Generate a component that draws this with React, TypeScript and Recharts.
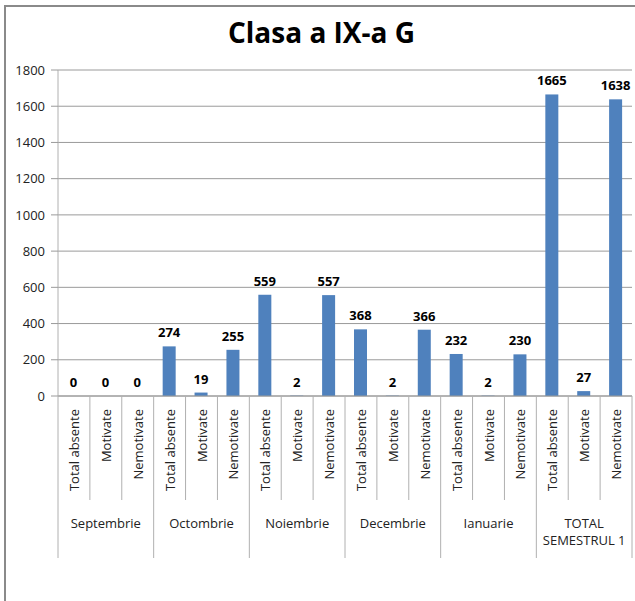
import { BarChart, Bar, XAxis, YAxis, CartesianGrid } from 'recharts';

const months = ['Septembrie', 'Octombrie', 'Noiembrie', 'Decembrie', 'Ianuarie', 'TOTAL SEMESTRUL 1'];
const kinds = ['Total absente', 'Motivate', 'Nemotivate'];

// absente per month: total, motivate, nemotivate
const totalAbsente = [0, 274, 559, 368, 232, 1665];
const motivate = [0, 19, 2, 2, 2, 27];
const nemotivate = [0, 255, 557, 366, 230, 1638];

const yTicks = [0, 200, 400, 600, 800, 1000, 1200, 1400, 1600, 1800];

const data = months.flatMap((m, i) => [
  { month: m, kind: kinds[0], value: totalAbsente[i] },
  { month: m, kind: kinds[1], value: motivate[i] },
  { month: m, kind: kinds[2], value: nemotivate[i] },
]);

const FONT = '"Open Sans", sans-serif';
const W = 635;
const H = 601;
const M = { top: 70, right: 3, bottom: 0, left: 0 };
const BAND = (W - 58 - M.right) / data.length;

const CategoryTick = (props: any) => {
  const { x, y, payload, index } = props;
  const i = payload?.index ?? index;
  const pos = i % 3;
  const month = data[i].month;
  const right = x + BAND / 2;
  const left = x - BAND / 2;
  const lineColor = '#b0b0b0';
  return (
    <g>
      <text
        transform={`translate(${x + 5}, ${y + 13}) rotate(-90)`}
        textAnchor="end"
        fontSize={13}
        fontFamily={FONT}
        fill="#222"
      >
        {payload.value}
      </text>
      {i === 0 && <line x1={left} y1={y} x2={left} y2={y + 162} stroke={lineColor} />}
      <line x1={right} y1={y} x2={right} y2={y + (pos === 2 ? 162 : 104)} stroke={lineColor} />
      {pos === 1 && month.startsWith('TOTAL') ? (
        <text textAnchor="middle" fontSize={13} fontFamily={FONT} fill="#222">
          <tspan x={x} y={y + 132}>TOTAL</tspan>
          <tspan x={x} y={y + 149}>SEMESTRUL 1</tspan>
        </text>
      ) : pos === 1 ? (
        <text x={x} y={y + 132} textAnchor="middle" fontSize={13} fontFamily={FONT} fill="#222">
          {month}
        </text>
      ) : null}
    </g>
  );
};

// bar plus its value label (drawn here so zero bars still get a label)
const BarWithLabel = (props: any) => {
  const { x, y, width, height, fill, value } = props;
  const v = Array.isArray(value) ? value[1] - value[0] : value;
  return (
    <g>
      {height > 0 && <rect x={x} y={y} width={width} height={height} fill={fill} />}
      <text
        x={x + width / 2}
        y={y - 9}
        textAnchor="middle"
        fontSize={13}
        fontWeight="bold"
        fontFamily={FONT}
        fill="#000"
      >
        {v}
      </text>
    </g>
  );
};

export default function App() {
  return (
    <div style={{ position: 'absolute', left: 0, top: 0, width: W, height: H, background: '#fff' }}>
      <div
        style={{
          position: 'absolute',
          left: 4,
          top: 5,
          width: W - 4,
          height: H - 5,
          borderTop: '2px solid #8a8a8a',
          borderLeft: '2px solid #8a8a8a',
          boxSizing: 'border-box',
        }}
      />
      <div
        style={{
          position: 'absolute',
          left: 0,
          top: 13,
          width: W + 8,
          textAlign: 'center',
          fontFamily: FONT,
          fontWeight: 'bold',
          fontSize: 28,
          lineHeight: 'normal',
          color: '#000',
        }}
      >
        Clasa a IX-a G
      </div>
      <BarChart
        width={W}
        height={H}
        data={data}
        margin={M}
        barCategoryGap={0}
        style={{ position: 'absolute', left: 0, top: 0 }}
      >
        <CartesianGrid vertical={false} stroke="#9a9a9a" />
        <XAxis
          dataKey="kind"
          height={205}
          interval={0}
          tickLine={false}
          tickSize={0}
          tickMargin={0}
          axisLine={{ stroke: '#9a9a9a' }}
          tick={<CategoryTick />}
        />
        <YAxis
          domain={[0, 1800]}
          ticks={yTicks}
          width={58}
          tickSize={7}
          tickMargin={6}
          tickLine={{ stroke: '#9a9a9a' }}
          axisLine={{ stroke: '#b0b0b0' }}
          tick={{ fontSize: 13, fontFamily: FONT, fill: '#222' }}
          interval={0}
        />
        <Bar
          dataKey="value"
          fill="#4f81bd"
          barSize={13}
          isAnimationActive={false}
          shape={<BarWithLabel />}
        />
      </BarChart>
    </div>
  );
}
